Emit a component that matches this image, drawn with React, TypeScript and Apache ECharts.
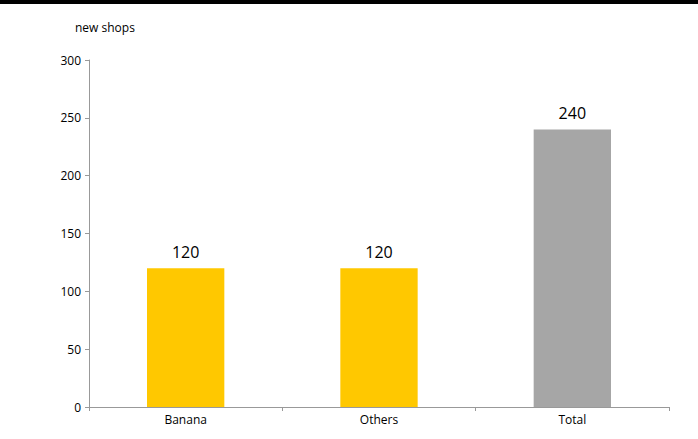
import React, { useEffect, useRef } from "react";
import * as echarts from "echarts";

const categories = ["Banana", "Others", "Total"];
const values = [120, 120, 240];
const barColors = ["#FFC800", "#FFC800", "#A6A6A6"];
const yTicks = { min: 0, max: 300, interval: 50 };
const yAxisTitle = "new shops";

export default function App() {
  const ref = useRef<HTMLDivElement>(null);
  useEffect(() => {
    if (!ref.current) return;
    const chart = echarts.init(ref.current, null, { renderer: "svg" });
    const font = "'Open Sans', sans-serif";
    chart.setOption({
      animation: false,
      textStyle: { fontFamily: font },
      graphic: [
        { type: "rect", shape: { x: 0, y: 0, width: 698, height: 4 }, style: { fill: "#000" } },
        { type: "text", x: 75, y: 21, style: { text: yAxisTitle, fontSize: 12, fontFamily: font, fill: "#000" } },
      ],
      grid: { left: 89, right: 29, top: 60, bottom: 32 },
      xAxis: {
        type: "category",
        data: categories,
        axisLine: { lineStyle: { color: "#999", width: 1 } },
        axisTick: { show: true, length: 4, lineStyle: { color: "#999" } },
        axisLabel: { color: "#000", fontSize: 12, margin: 6, fontFamily: font },
      },
      yAxis: {
        type: "value",
        min: yTicks.min,
        max: yTicks.max,
        interval: yTicks.interval,
        splitLine: { show: false },
        axisLine: { show: true, lineStyle: { color: "#999", width: 1 } },
        axisTick: { show: true, length: 4, lineStyle: { color: "#999" } },
        axisLabel: { color: "#000", fontSize: 12, margin: 8, fontFamily: font },
      },
      series: [
        {
          type: "bar",
          barWidth: "40%",
          data: values.map((v, i) => ({ value: v, itemStyle: { color: barColors[i] } })),
          label: { show: true, position: "top", color: "#000", fontSize: 16, distance: 8, fontFamily: font },
        },
      ],
    });
    return () => chart.dispose();
  }, []);
  return <div ref={ref} style={{ width: 698, height: 439, position: "absolute", left: 0, top: 0 }} />;
}
